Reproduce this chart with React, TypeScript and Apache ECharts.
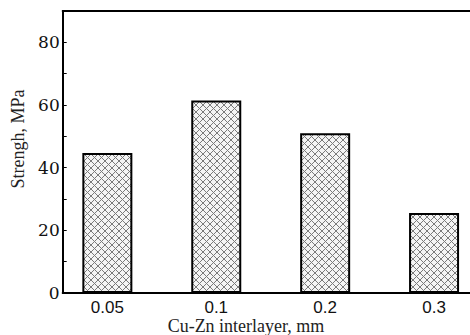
import React, { useEffect, useRef } from "react";
import * as echarts from "echarts";

const categories = ["0.05", "0.1", "0.2", "0.3"];
const strength = [44.7, 61.4, 51.0, 25.5];
const yTickLabels = [0, 20, 40, 60, 80];
const yTicks = [0, 10, 20, 30, 40, 50, 60, 70, 80];
const xTitle = "Cu-Zn interlayer, mm";
const yTitle = "Strengh, MPa";

function makePattern(): HTMLCanvasElement {
  const s = 7;
  const c = document.createElement("canvas");
  c.width = s;
  c.height = s;
  const ctx = c.getContext("2d")!;
  ctx.fillStyle = "#f4f4f4";
  ctx.fillRect(0, 0, s, s);
  ctx.strokeStyle = "#7a7a7a";
  ctx.lineWidth = 1;
  ctx.beginPath();
  ctx.moveTo(0, 0);
  ctx.lineTo(s, s);
  ctx.moveTo(s, 0);
  ctx.lineTo(0, s);
  ctx.stroke();
  return c;
}

export default function App() {
  const ref = useRef<HTMLDivElement>(null);
  useEffect(() => {
    if (!ref.current) return;
    const chart = echarts.init(ref.current, null, { renderer: "svg" });
    const pattern = makePattern();
    chart.setOption({
      animation: false,
      grid: { left: 62.7, right: 0, top: 11, bottom: 42 },
      xAxis: [
        {
          type: "value",
          min: -0.41,
          max: 3.33,
          position: "bottom",
          axisLine: { show: true, onZero: false, lineStyle: { color: "#000", width: 2 } },
          axisTick: { show: false },
          splitLine: { show: false },
          axisLabel: {
            customValues: [0, 1, 2, 3],
            formatter: (v: number) => categories[Math.round(v)] ?? "",
            color: "#111",
            fontFamily: "Liberation Sans",
            fontSize: 17,
            margin: 6,
          },
        },
        {
          type: "value",
          min: -0.41,
          max: 3.33,
          position: "top",
          axisLine: { show: true, onZero: false, lineStyle: { color: "#000", width: 2 } },
          axisTick: { show: false },
          axisLabel: { show: false },
          splitLine: { show: false },
        },
      ],
      yAxis: {
        type: "value",
        min: 0,
        max: 90,
        position: "left",
        axisLine: { show: true, onZero: false, lineStyle: { color: "#000", width: 2 } },
        axisTick: {
          show: true,
          inside: true,
          length: 4,
          customValues: yTicks,
          lineStyle: { color: "#000", width: 1 },
        },
        splitLine: { show: false },
        axisLabel: {
          customValues: yTickLabels,
          color: "#111",
          fontFamily: "DejaVu Serif",
          fontSize: 17,
          margin: 3,
        },
      },
      series: [
        {
          type: "bar",
          xAxisIndex: 0,
          barWidth: 50,
          data: strength.map((v, i) => [i, v]),
          itemStyle: {
            color: { image: pattern, repeat: "repeat" },
            borderColor: "#000",
            borderWidth: 2,
          },
        },
      ],
      graphic: [
        {
          type: "text",
          x: 18,
          y: 139,
          rotation: Math.PI / 2,
          style: {
            text: yTitle,
            fill: "#222",
            font: "18px 'Liberation Serif'",
            align: "center",
            verticalAlign: "middle",
          },
        },
        {
          type: "text",
          x: 246,
          y: 326,
          style: {
            text: xTitle,
            fill: "#222",
            font: "18px 'Liberation Serif'",
            align: "center",
            verticalAlign: "middle",
          },
        },
      ],
    });
    return () => chart.dispose();
  }, []);
  return <div ref={ref} style={{ width: 470, height: 335, position: "absolute", left: 0, top: 0 }} />;
}
